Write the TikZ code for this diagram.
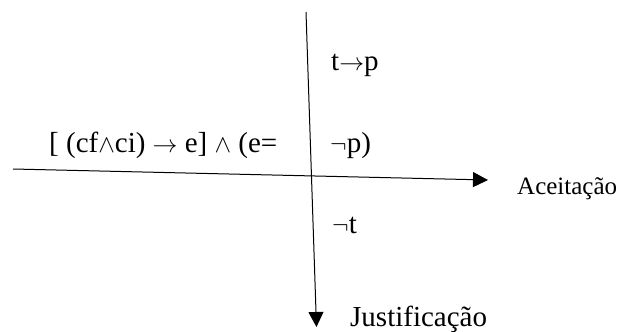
\documentclass[tikz,border=0pt]{standalone}
\usepackage{fontspec}
\setmainfont{Liberation Serif}
\usetikzlibrary{arrows.meta}
\begin{document}
\begin{tikzpicture}[x=1pt,y=-1pt,
  axis/.style={line width=1pt, -{Triangle[length=15pt,width=15pt]}},
  lbl/.style={anchor=base west, inner sep=0pt, font=\fontsize{29}{34}\selectfont},
  axlbl/.style={anchor=base west, inner sep=0pt, font=\fontsize{25}{30}\selectfont}]
\useasboundingbox (0,0) rectangle (622,332);
\coordinate (vtop) at (306,12);
\coordinate (vbot) at (316.5,327);
\coordinate (hleft) at (13,169);
\coordinate (hright) at (488,180);
\draw[axis] (vtop) -- (vbot);
\draw[axis] (hleft) -- (hright);
\node[lbl] (tp) at (331,70) {t$\rightarrow$p};
\node[lbl] (f1) at (49,152) {[ (cf$\wedge$ci) $\rightarrow$ e] $\wedge$ (e=};
\node[lbl] (f2) at (330,152) {$\neg$p)};
\node[lbl] (nt) at (332,233) {$\neg$t};
\node[axlbl] (ac) at (517,194) {Aceitação};
\node[lbl] (ju) at (350,326) {Justificação};
\end{tikzpicture}
\end{document}
